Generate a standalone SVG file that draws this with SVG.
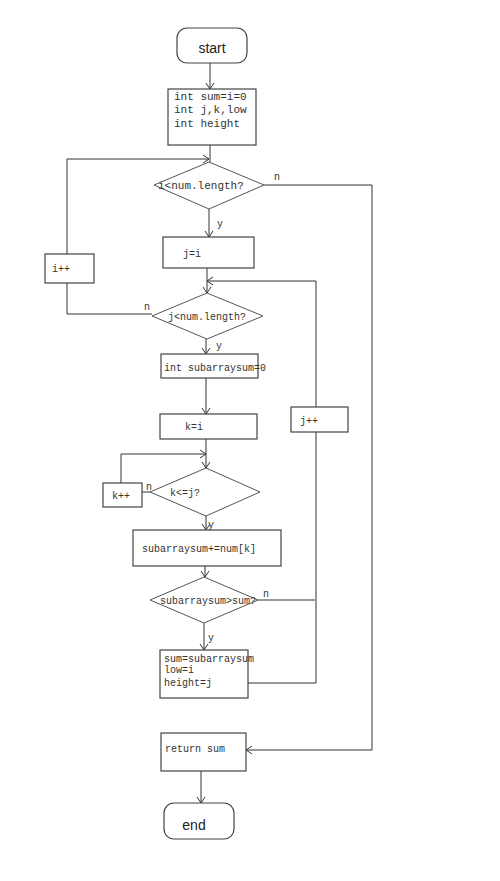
<svg xmlns="http://www.w3.org/2000/svg" width="500" height="881" viewBox="0 0 500 881">
<defs>
<marker id="arr" markerWidth="10" markerHeight="10" refX="8" refY="5" orient="auto" markerUnits="userSpaceOnUse">
<polyline points="2,1 8,5 2,9" fill="none" stroke="#333" stroke-width="1"/>
</marker>
</defs>
<style>
.box{fill:#fff;stroke:#444;stroke-width:1.2}
.dia{fill:#fff;stroke:#555;stroke-width:1}
.t{font-family:"Liberation Mono",monospace;font-size:10px;fill:#333}
.tb{font-family:"Liberation Mono",monospace;font-size:11px;fill:#333}
.s{font-family:"Liberation Sans",Arial,sans-serif;font-size:14px;fill:#222}
.c{fill:none;stroke:#333;stroke-width:1}
</style>
<rect width="500" height="881" fill="#fff"/>
<g id="connectors">
<line class="c" x1="210" y1="63" x2="210" y2="89" marker-end="url(#arr)"/>
<line class="c" x1="210" y1="145" x2="210" y2="162"/>
<polyline class="c" points="67,254 67,159 209,159" marker-end="url(#arr)"/>
<polyline class="c" points="264,185 372,185 372,750 246,750" marker-end="url(#arr)"/>
<line class="c" x1="209" y1="209" x2="209" y2="237" marker-end="url(#arr)"/>
<line class="c" x1="207" y1="268" x2="207" y2="293" marker-end="url(#arr)"/>
<polyline class="c" points="316,408 316,281 207,281" marker-end="url(#arr)"/>
<polyline class="c" points="152,314 67,314 67,283"/>
<line class="c" x1="206" y1="339" x2="206" y2="354" marker-end="url(#arr)"/>
<line class="c" x1="206" y1="378" x2="206" y2="414" marker-end="url(#arr)"/>
<line class="c" x1="206" y1="439" x2="206" y2="468" marker-end="url(#arr)"/>
<polyline class="c" points="121,483 121,454 206,454" marker-end="url(#arr)"/>
<line class="c" x1="150" y1="492" x2="142" y2="492"/>
<line class="c" x1="206" y1="516" x2="206" y2="530" marker-end="url(#arr)"/>
<line class="c" x1="205" y1="566" x2="205" y2="577" marker-end="url(#arr)"/>
<polyline class="c" points="258,600 315,600"/>
<line class="c" x1="316" y1="432" x2="316" y2="683"/>
<polyline class="c" points="248,683 316,683"/>
<line class="c" x1="204" y1="623" x2="204" y2="650" marker-end="url(#arr)"/>
<line class="c" x1="201" y1="771" x2="201" y2="803" marker-end="url(#arr)"/>
<text class="t" x="274" y="180">n</text>
<text class="t" x="217" y="227">y</text>
<text class="t" x="144" y="310">n</text>
<text class="t" x="216" y="349">y</text>
<text class="t" x="146" y="490">n</text>
<text class="t" x="208" y="528">y</text>
<text class="t" x="263" y="597">n</text>
<text class="t" x="208" y="641">y</text>
</g>
<g id="start"><rect class="box" x="177" y="28" width="70" height="35" rx="10"/><text class="s" x="212" y="53" text-anchor="middle">start</text></g>
<g id="init"><rect class="box" x="168" y="89" width="88" height="56"/>
<text class="tb" x="174" y="100">int sum=i=0</text><text class="tb" x="174" y="113">int j,k,low</text><text class="tb" x="174" y="127">int height</text></g>
<g id="cond_i"><polygon class="dia" points="154,185 209,162 264,185 209,209"/><text class="tb" x="158" y="189" font-size="12.5">i&lt;num.length?</text></g>
<g id="ipp"><rect class="box" x="45" y="254" width="49" height="29"/><text class="t" x="52" y="272">i++</text></g>
<g id="jeqi"><rect class="box" x="163" y="237" width="91" height="31"/><text class="t" x="183" y="257">j=i</text></g>
<g id="cond_j"><polygon class="dia" points="152,316 207,293 263,316 207,339"/><text class="t" x="168" y="320">j&lt;num.length?</text></g>
<g id="subinit"><rect class="box" x="161" y="354" width="97" height="24"/><text class="t" x="164" y="371">int subarraysum=0</text></g>
<g id="keqi"><rect class="box" x="160" y="414" width="97" height="25"/><text class="t" x="185" y="430">k=i</text></g>
<g id="jpp"><rect class="box" x="291" y="407" width="57" height="25"/><text class="t" x="300" y="424">j++</text></g>
<g id="cond_k"><polygon class="dia" points="150,492 206,468 260,492 206,516"/><text class="t" x="170" y="496">k&lt;=j?</text></g>
<g id="kpp"><rect class="box" x="103" y="483" width="39" height="24"/><text class="t" x="112" y="499">k++</text></g>
<g id="accum"><rect class="box" x="133" y="530" width="148" height="36"/><text class="t" x="142" y="552">subarraysum+=num[k]</text></g>
<g id="cond_sum"><polygon class="dia" points="150,600 204,577 258,600 204,623"/><text class="t" x="160" y="604">subarraysum&gt;sum?</text></g>
<g id="update"><rect class="box" x="160" y="650" width="88" height="48"/>
<text class="t" x="164" y="662">sum=subarraysum</text><text class="t" x="164" y="673">low=i</text><text class="t" x="164" y="686">height=j</text></g>
<g id="ret"><rect class="box" x="161" y="733" width="85" height="38"/><text class="t" x="165" y="752">return sum</text></g>
<g id="end"><rect class="box" x="164" y="803" width="70" height="36" rx="10"/><text class="s" x="194" y="830" text-anchor="middle" font-size="15">end</text></g>
</svg>
